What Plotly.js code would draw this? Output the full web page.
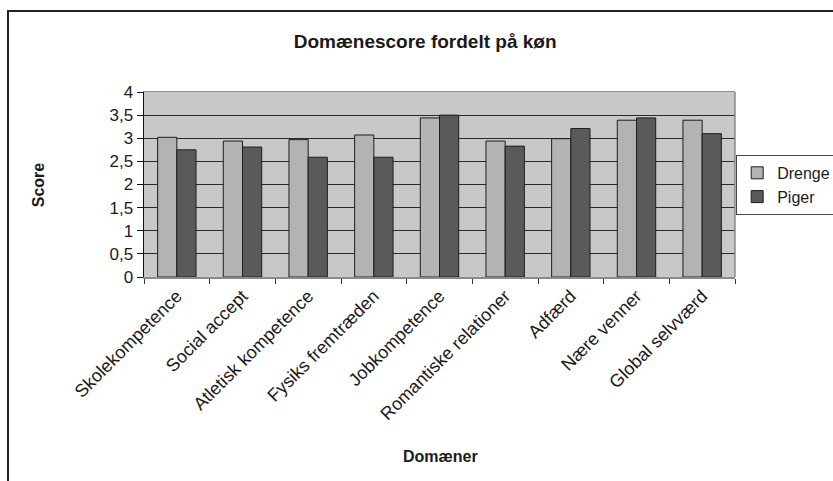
<!DOCTYPE html>
<html>
<head>
<meta charset="utf-8">
<script src="https://cdn.plot.ly/plotly-3.0.1.min.js"></script>
<style>
  body { margin: 0; background: #fff; overflow: hidden; }
  #chart {
    position: absolute; left: 7px; top: 10px;
    width: 824px; height: 469px;
    border-left: 2px solid #222; border-top: 2px solid #222;
  }
</style>
</head>
<body>
<div id="chart"></div>
<script>
const domaener = ["Skolekompetence", "Social accept", "Atletisk kompetence", "Fysiks fremtræden",
  "Jobkompetence", "Romantiske relationer", "Adfærd", "Nære venner", "Global selvværd"];
const drenge = [3.02, 2.94, 2.97, 3.07, 3.44, 2.94, 2.99, 3.39, 3.39];
const piger  = [2.75, 2.81, 2.59, 2.59, 3.50, 2.83, 3.21, 3.44, 3.10];
const yTicks = [0, 0.5, 1, 1.5, 2, 2.5, 3, 3.5, 4];
const yTickText = ["0", "0,5", "1", "1,5", "2", "2,5", "3", "3,5", "4"];

const font = "Liberation Sans, Arial, sans-serif";

Plotly.newPlot("chart", [
  {
    x: domaener, y: drenge, type: "bar", name: "Drenge",
    marker: { color: "#b3b3b5", line: { color: "#1e1e1e", width: 1 } }
  },
  {
    x: domaener, y: piger, type: "bar", name: "Piger",
    marker: { color: "#5a5a5c", line: { color: "#1e1e1e", width: 1 } }
  }
], {
  width: 824, height: 469,
  margin: { t: 80, r: 98, b: 204, l: 135, autoexpand: false },
  paper_bgcolor: "#fff",
  plot_bgcolor: "#c8c8c8",
  font: { family: font, color: "#1a1a1a", size: 16 },
  title: {
    text: "<b>Domænescore fordelt på køn</b>",
    font: { size: 19 },
    x: 0.505, xref: "container", xanchor: "center",
    y: 1 - 29 / 469, yref: "container", yanchor: "middle"
  },
  barmode: "group", bargap: 0.415, bargroupgap: 0,
  showlegend: true,
  legend: {
    x: 1.002, xanchor: "left", y: 0.66, yanchor: "top",
    bordercolor: "#444", borderwidth: 1, bgcolor: "#fff",
    font: { size: 16 }, tracegroupgap: 0, itemwidth: 30
  },
  xaxis: {
    type: "category", tickangle: -45, tickson: "boundaries",
    ticks: "outside", ticklen: 5, tickcolor: "#333",
    showline: true, linecolor: "#8a8a8a", linewidth: 1.5, mirror: true,
    showgrid: false, fixedrange: true, automargin: false, tickfont: { size: 18 }
  },
  yaxis: {
    range: [0, 4], tickvals: yTicks, ticktext: yTickText,
    ticks: "outside", ticklen: 6, tickcolor: "#111",
    showline: true, linecolor: "#111", linewidth: 1.5,
    showgrid: true, gridcolor: "#2a2a2a", gridwidth: 1,
    zeroline: false, fixedrange: true, automargin: false, tickfont: { size: 17 }
  },
  shapes: [
    { type: "line", xref: "paper", yref: "paper", x0: 1, x1: 1, y0: 0, y1: 1,
      line: { color: "#8a8a8a", width: 1.5 } }
  ],
  annotations: [
    { text: "<b>Score</b>", xref: "paper", yref: "paper", x: -0.179, y: 0.497,
      xanchor: "center", yanchor: "middle",
      textangle: -90, showarrow: false, font: { size: 16 } },
    { text: "<b>Domæner</b>", xref: "paper", yref: "paper", x: 0.5025, y: -0.968,
      xanchor: "center", yanchor: "middle",
      showarrow: false, font: { size: 16 } }
  ]
}, { displayModeBar: false, staticPlot: true });
</script>
</body>
</html>
